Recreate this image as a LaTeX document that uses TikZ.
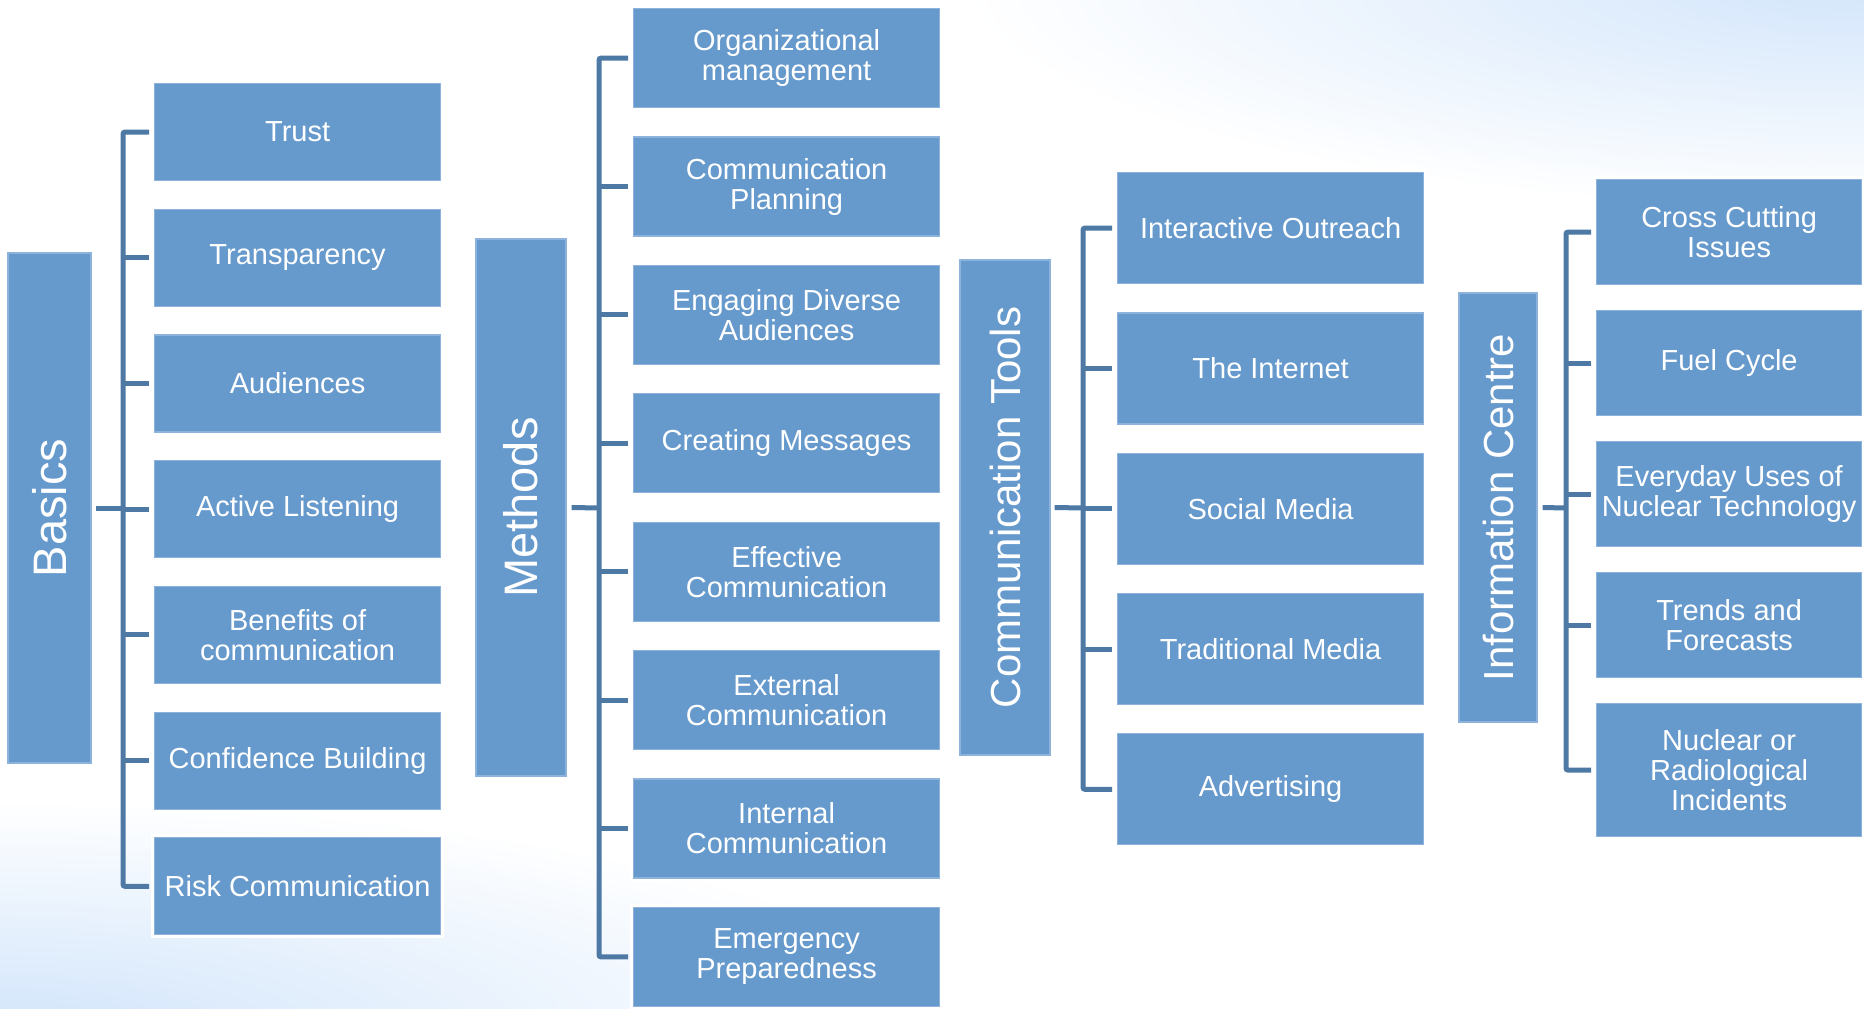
\documentclass[tikz,border=0pt]{standalone}
\usepackage{fontspec}
\setmainfont{Liberation Sans}
\usepackage{graphicx}
\definecolor{boxblue}{HTML}{6699CC}
\definecolor{boxedge}{HTML}{8DB3DD}
\definecolor{linkblue}{HTML}{4F79A5}
\definecolor{bgblue}{HTML}{D2E5FB}
\tikzset{
  box/.style={rectangle, fill=boxblue, draw=boxedge, line width=1.2pt, text=white, align=center,
    inner sep=0pt, anchor=north west, font=\fontsize{29}{30}\selectfont,
    preaction={draw=white, line width=7pt}},
  bbox/.style={box, minimum width=286, minimum height=97},
  mbox/.style={box, minimum width=306, minimum height=99},
  cbox/.style={box, minimum width=306, minimum height=111},
  ibox/.style={box, minimum width=265, minimum height=105},
  catbig/.style={box, anchor=center, font=\fontsize{47}{47}\selectfont},
  catsmall/.style={box, anchor=center, font=\fontsize{42}{42}\selectfont},
  conn/.style={draw=linkblue, line width=5pt, rounded corners=2pt},
}
\begin{document}
\begin{tikzpicture}[x=1pt,y=-1pt]
\useasboundingbox (0,0) rectangle (1864,1009);
\fill[white] (0,0) rectangle (1864,1009);
\begin{scope}
  \clip (0,0) rectangle (1864,1009);
  \shade[inner color=bgblue, outer color=white] (0,1030) ellipse [x radius=950, y radius=230];
  \shade[inner color=bgblue, outer color=white] (1864,-20) ellipse [x radius=900, y radius=230];
\end{scope}

% Basics
\node[catbig, minimum width=83, minimum height=510] (basics) at (49.5,508) {\rotatebox{90}{Basics}};
\node[bbox] (b1) at (154,83) {Trust};
\node[bbox] (b2) at (154,208.7) {Transparency};
\node[bbox] (b3) at (154,334.4) {Audiences};
\node[bbox] (b4) at (154,460.1) {Active Listening};
\node[bbox] (b5) at (154,585.8) {Benefits of\\communication};
\node[bbox] (b6) at (154,711.5) {Confidence Building};
\node[bbox] (b7) at (154,837.2) {Risk Communication};
\coordinate (bx) at (123,508);
\draw[conn] ([xshift=-5pt]b1.west) -| (bx |- b7.west) -- ([xshift=-5pt]b7.west);
\foreach \n in {b2,b3,b4,b5,b6} \draw[conn] (bx |- \n.west) -- ([xshift=-5pt]\n.west);
\draw[conn] ([xshift=4pt]basics.east) -- (bx);

% Methods
\node[catbig, minimum width=90, minimum height=537] (methods) at (521,507.5) {\rotatebox{90}{Methods}};
\node[mbox] (m1) at (633,8) {Organizational\\management};
\node[mbox] (m2) at (633,136.4) {Communication\\Planning};
\node[mbox] (m3) at (633,264.8) {Engaging Diverse\\Audiences};
\node[mbox] (m4) at (633,393.2) {Creating Messages};
\node[mbox] (m5) at (633,521.6) {Effective\\Communication};
\node[mbox] (m6) at (633,650) {External\\Communication};
\node[mbox] (m7) at (633,778.4) {Internal\\Communication};
\node[mbox] (m8) at (633,906.8) {Emergency\\Preparedness};
\coordinate (mx) at (599,508);
\draw[conn] ([xshift=-5pt]m1.west) -| (mx |- m8.west) -- ([xshift=-5pt]m8.west);
\foreach \n in {m2,m3,m4,m5,m6,m7} \draw[conn] (mx |- \n.west) -- ([xshift=-5pt]\n.west);
\draw[conn] ([xshift=5pt]methods.east) -- (mx);

% Communication Tools
\node[catsmall, minimum width=90, minimum height=495] (tools) at (1005,507.5) {\rotatebox{90}{Communication Tools}};
\node[cbox] (c1) at (1117,172) {Interactive Outreach};
\node[cbox] (c2) at (1117,312.3) {The Internet};
\node[cbox] (c3) at (1117,452.6) {Social Media};
\node[cbox] (c4) at (1117,592.9) {Traditional Media};
\node[cbox] (c5) at (1117,733.2) {Advertising};
\coordinate (cx) at (1083,508);
\draw[conn] ([xshift=-5pt]c1.west) -| (cx |- c5.west) -- ([xshift=-5pt]c5.west);
\foreach \n in {c2,c3,c4} \draw[conn] (cx |- \n.west) -- ([xshift=-5pt]\n.west);
\draw[conn] ([xshift=4pt]tools.east) -- (cx);

% Information Centre
\node[catsmall, minimum width=78, minimum height=429] (info) at (1498,507.5) {\rotatebox{90}{Information Centre}};
\node[ibox] (i1) at (1596,179) {Cross Cutting\\Issues};
\node[ibox] (i2) at (1596,310) {Fuel Cycle};
\node[ibox] (i3) at (1596,441) {Everyday Uses of\\Nuclear Technology};
\node[ibox] (i4) at (1596,572) {Trends and\\Forecasts};
\node[ibox, minimum height=133] (i5) at (1596,703) {Nuclear or\\Radiological\\Incidents};
\coordinate (ix) at (1566,508);
\draw[conn] ([xshift=-5pt]i1.west) -| (ix |- i5.west) -- ([xshift=-5pt]i5.west);
\foreach \n in {i2,i3,i4} \draw[conn] (ix |- \n.west) -- ([xshift=-5pt]\n.west);
\draw[conn] ([xshift=5pt]info.east) -- (ix);
\end{tikzpicture}
\end{document}
